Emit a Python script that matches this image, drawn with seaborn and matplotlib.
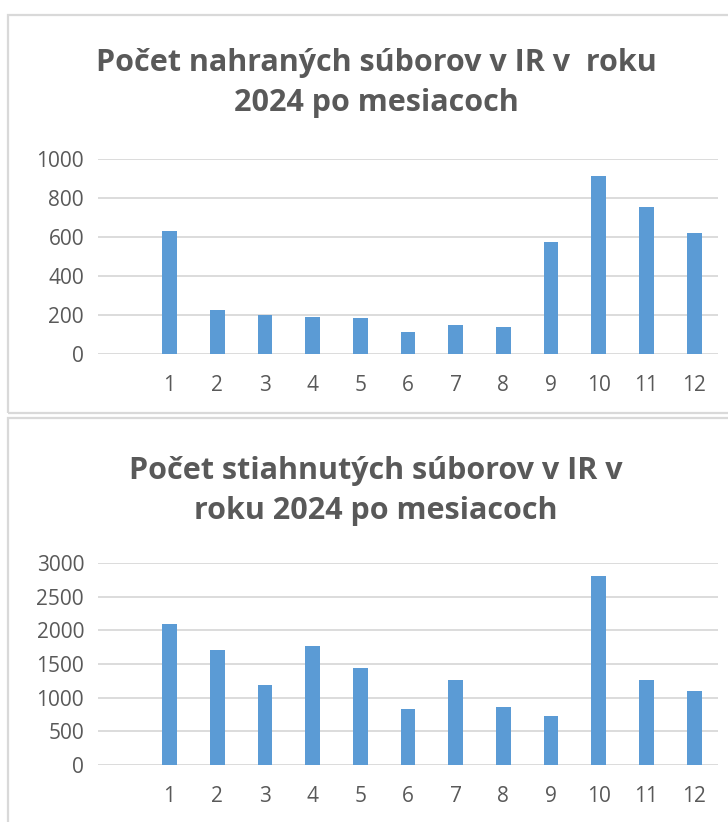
import matplotlib
matplotlib.use("Agg")
import matplotlib.pyplot as plt
from matplotlib.patches import Rectangle
import seaborn as sns
import pandas as pd

# hodnoty odčítané z grafu
mesiace = [1, 2, 3, 4, 5, 6, 7, 8, 9, 10, 11, 12]
nahrane = [631, 226, 202, 191, 185, 115, 149, 138, 576, 915, 752, 622]
stiahnute = [2093, 1706, 1185, 1770, 1438, 828, 1269, 858, 734, 2802, 1269, 1101]

titul_nahrane = "Počet nahraných súborov v IR v  roku\n2024 po mesiacoch"
titul_stiahnute = "Počet stiahnutých súborov v IR v\nroku 2024 po mesiacoch"

sns.set_style("white")
plt.rcParams['font.family'] = ['Open Sans', 'DejaVu Sans']

W, H = 728, 822
BLUE = "#5B9BD5"
GRAY_TXT = "#595959"
GRID = "#D9D9D9"

fig = plt.figure(figsize=(W / 100, H / 100), dpi=100)


def px_axes(left, top, right, bottom):
    return fig.add_axes([left / W, 1 - bottom / H, (right - left) / W, (bottom - top) / H])


# rámčeky panelov
fig.patches.append(Rectangle((8 / W, 1 - 413 / H), 1, (413 - 15) / H, transform=fig.transFigure,
                             fill=False, edgecolor=GRID, linewidth=1.6))
fig.patches.append(Rectangle((8 / W, -0.1), 1, 0.1 + (H - 418) / H, transform=fig.transFigure,
                             fill=False, edgecolor=GRID, linewidth=1.6))


def kresli(ax, hodnoty, ymax, krok, titul, title_y):
    df = pd.DataFrame({"mesiac": mesiace, "pocet": hodnoty})
    sns.barplot(data=df, x="mesiac", y="pocet", native_scale=True, color=BLUE,
                width=0.31, saturation=1, ax=ax, edgecolor="none")
    ax.set_xlim(-0.5, 12.5)
    ax.set_ylim(0, ymax)
    ax.set_yticks(range(0, ymax + 1, krok))
    ax.set_xticks(mesiace)
    ax.set_xticklabels([str(m) for m in mesiace])
    ax.set_xlabel("")
    ax.set_ylabel("")
    for s in ax.spines.values():
        s.set_visible(False)
    ax.grid(axis="y", color=GRID, linewidth=1.3)
    ax.set_axisbelow(True)
    ax.tick_params(axis="both", length=0, labelsize=15, labelcolor=GRAY_TXT)
    ax.tick_params(axis="x", pad=15)
    ax.tick_params(axis="y", pad=10)
    fig.text(376 / W, 1 - title_y / H, titul, ha="center", va="center",
             fontsize=22, fontweight="bold", color=GRAY_TXT, linespacing=1.4)


ax1 = px_axes(98, 159, 718, 354)
kresli(ax1, nahrane, 1000, 200, titul_nahrane, 83)

ax2 = px_axes(98, 563, 718, 765)
kresli(ax2, stiahnute, 3000, 500, titul_stiahnute, 491)

fig.savefig("out.png", dpi=100)
